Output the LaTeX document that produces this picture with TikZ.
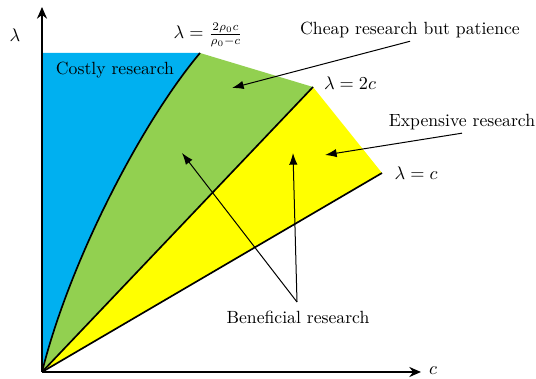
\documentclass[tikz,border=0pt]{standalone}
\usepackage{amsmath}
\usetikzlibrary{arrows.meta}

\begin{document}
\begin{tikzpicture}[x=0.6pt,y=0.6pt,line width=0.8pt,
	font=\fontsize{10.6}{12}\selectfont,
	boundary/.style={line width=1pt},
	axis/.style={line width=1.1pt,-{Stealth[length=7pt,width=6pt]}},
	pointer/.style={line width=0.6pt,-{Latex[length=7pt,width=5pt]}},
	regionlabel/.style={inner sep=1pt}]

% ---------- Parameters of the drawing ----------
% (0,0) = lower left corner of the picture, units are pixels of the reference
\def\OriginX{42}
\def\OriginY{7}
\def\TopY{326}        % Upper border of the coloured regions
\def\CurveTopX{200}   % Where the curve meets the upper border

% ---------- Colours ----------
\definecolor{costlycolor}{RGB}{0,176,240}
\definecolor{cheapcolor}{RGB}{146,208,80}
\definecolor{expensivecolor}{RGB}{255,255,0}

\useasboundingbox (0,0) rectangle (536,379);

% ---------- Corners of the regions ----------
\coordinate (O) at (\OriginX,\OriginY);
\coordinate (topleft) at (\OriginX,\TopY);
\coordinate (curvetop) at (\CurveTopX,\TopY);
\coordinate (twoc) at (313,292);
\coordinate (onec) at (382,206);

% ---------- Regions ----------
\fill[costlycolor] (O) -- (topleft) -- (curvetop) .. controls (142,257) and (70,119) .. (O) -- cycle;
\fill[cheapcolor] (O) .. controls (70,119) and (142,257) .. (curvetop) -- (twoc) -- cycle;
\fill[expensivecolor] (O) -- (twoc) -- (onec) -- cycle;

% ---------- Boundaries ----------
\draw[boundary] (O) .. controls (70,119) and (142,257) .. (curvetop);
\draw[boundary] (O) -- (twoc);
\draw[boundary] (O) -- (onec);

% ---------- Axes ----------
\coordinate (ytip) at (\OriginX,372);
\coordinate (xtip) at (421,\OriginY);
\draw[axis] (O) -- (ytip);
\draw[axis] (O) -- (xtip);
\node (lambda) at (15,344) {$\lambda$};
\node (cost) at (433,8) {$c$};

% ---------- Curve labels ----------
\node (curvelabel) at (208,344) {$\lambda=\frac{2\rho_0 c}{\rho_0-c}$};
\node (twoclabel) at (350,296) {$\lambda=2c$};
\node (oneclabel) at (416,206) {$\lambda=c$};

% ---------- Region labels ----------
\node[regionlabel] (costly) at (115,309) {Costly research};
\node[regionlabel] (cheap) at (410,349) {Cheap research but patience};
\node[regionlabel] (expensive) at (462,257) {Expensive research};
\node[regionlabel] (beneficial) at (298,62) {Beneficial research};

% ---------- Pointers ----------
\coordinate (cheaptip) at (232,291);
\coordinate (expensivetip) at (325,224);
\coordinate (benegreen) at (182,226);
\coordinate (beneyellow) at (293,226);
\coordinate (benefoot) at (297,77);
\draw[pointer] (cheap.south) ++(0,-1) -- (cheaptip);
\draw[pointer] (expensive.south) ++(0,-1) -- (expensivetip);
\draw[pointer] (benefoot) -- (benegreen);
\draw[pointer] (benefoot) -- (beneyellow);

\end{tikzpicture}
\end{document}
